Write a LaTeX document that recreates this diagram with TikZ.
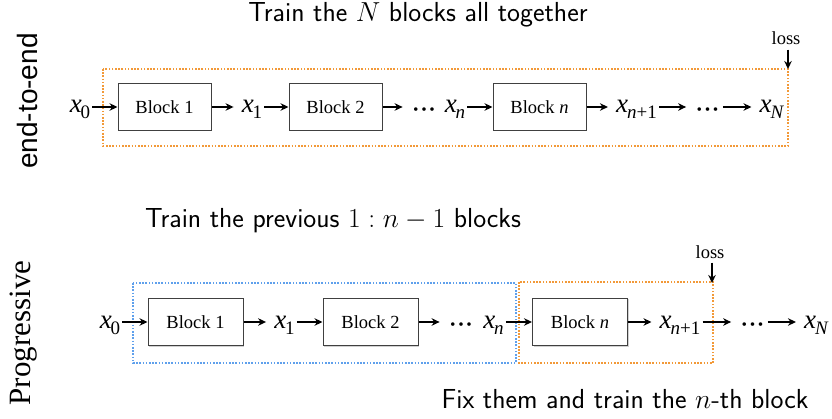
\documentclass[tikz,border=0pt]{standalone}
\usepackage{fix-cm}
\usepackage{fontspec}
\newfontfamily\tms{Liberation Serif}
\newfontfamily\hlv{Liberation Sans}
\usetikzlibrary{arrows.meta,shadows}
\definecolor{orD}{RGB}{242,153,56}
\definecolor{blD}{RGB}{95,160,236}
\newcommand{\xv}[1]{{\fontsize{27}{29}\selectfont\tms\itshape x}\kern-1pt\raisebox{-6pt}{\fontsize{19}{21}\selectfont\tms #1}}
\newcommand{\mydots}{\raisebox{-6.5pt}{\fontsize{30}{32}\selectfont\tms\textperiodcentered\kern-1.8pt\textperiodcentered\kern-1.8pt\textperiodcentered}}
\tikzset{
  blk/.style={draw=black!75, line width=1pt, fill=white, minimum width=#1, minimum height=47pt, inner sep=0pt, font=\fontsize{18.5}{20}\selectfont\tms,
    drop shadow={shadow xshift=1pt, shadow yshift=-1pt, fill=black, opacity=0.18}},
  mth/.style={inner xsep=2pt, inner ysep=0pt, anchor=base},
  arr/.style={-{Stealth[length=8pt,width=7.5pt]}, line width=1.4pt, black},
  arm/.style={arr, shorten >=6pt},
  dotbox/.style={line width=1.7pt, dash pattern=on 1.6pt off 1.6pt},
  ttl/.style={anchor=base, inner sep=0pt, font=\fontsize{27.5}{29}\selectfont\sffamily},
  losst/.style={inner sep=0pt, font=\fontsize{18.5}{20}\selectfont\tms},
}
\begin{document}
\begin{tikzpicture}[x=1pt,y=-1pt]
\useasboundingbox (0,0) rectangle (832,419);
% titles
\node[ttl] (t1) at (418,22) {Train the $N$ blocks all together};
\node[ttl] (t2) at (333,228) {Train the previous $1:n-1$ blocks};
\node[ttl] (t3) at (625,408) {Fix them and train the $n$-th block};
\node[rotate=90, inner sep=0pt, font=\fontsize{28}{30}\selectfont\hlv] (l1) at (27,101) {end-to-end};
\node[rotate=90, inner sep=0pt, font=\fontsize{31}{33}\selectfont\tms] (l2) at (24,333) {Progressive};
% ---------- top row ----------
\coordinate (r1) at (0,107);
\node[mth] (a0) at (80,113) {\xv{0}};
\node[blk=93pt] (ab1) at (164.5,107) {Block 1};
\node[mth] (a1) at (252,113) {\xv{1}};
\node[blk=93pt] (ab2) at (335.5,107) {Block 2};
\node[mth] (ad1) at (424,113) {\mydots};
\node[mth] (an) at (455,113) {\xv{\itshape n}};
\node[blk=93pt] (abn) at (539.5,107) {Block \textit{n}};
\node[mth] (an1) at (636.5,113) {\xv{\textit{n}+1}};
\node[mth] (ad2) at (707.5,113) {\mydots};
\node[mth] (aN) at (771.5,113) {\xv{\itshape N}};
\node[losst] (aloss) at (786,38) {loss};
\coordinate (alt) at (788,69);
\draw[orD, dotbox] (103,69) rectangle (788,146);
\draw[arr] (a0.east |- r1) -- (ab1.west);
\draw[arm] (ab1.east) -- (a1.west |- r1);
\draw[arr] (a1.east |- r1) -- (ab2.west);
\draw[arm] (ab2.east) -- (ad1.west |- r1);
\draw[arr] (an.east |- r1) -- (abn.west);
\draw[arm] (abn.east) -- (an1.west |- r1);
\draw[arm] (an1.east |- r1) -- (ad2.west |- r1);
\draw[arm] (ad2.east |- r1) -- (aN.west |- r1);
\draw[arr] (aloss.south -| alt) ++(0,5) -- (alt);
% ---------- bottom row ----------
\coordinate (r2) at (0,322);
\node[mth] (b0) at (110,328) {\xv{0}};
\node[blk=95pt] (bb1) at (195.5,322) {Block 1};
\node[mth] (b1) at (284.5,328) {\xv{1}};
\node[blk=95pt] (bb2) at (370.5,322) {Block 2};
\node[mth] (bd1) at (461,328) {\mydots};
\node[mth] (bn) at (493.5,328) {\xv{\itshape n}};
\node[blk=95pt] (bbn) at (580,322) {Block \textit{n}};
\node[mth] (bn1) at (680,328) {\xv{\textit{n}+1}};
\node[mth] (bd2) at (752.5,328) {\mydots};
\node[mth] (bN) at (816,328) {\xv{\itshape N}};
\node[losst] (bloss) at (710,252) {loss};
\coordinate (blt) at (712,283);
\draw[blD, dotbox] (133,283) rectangle (516,363);
\draw[orD, dotbox] (519,282) rectangle (713,363);
\draw[arr] (b0.east |- r2) -- (bb1.west);
\draw[arm] (bb1.east) -- (b1.west |- r2);
\draw[arr] (b1.east |- r2) -- (bb2.west);
\draw[arm] (bb2.east) -- (bd1.west |- r2);
\draw[arr] (bn.east |- r2) -- (bbn.west);
\draw[arm] (bbn.east) -- (bn1.west |- r2);
\draw[arm] (bn1.east |- r2) -- (bd2.west |- r2);
\draw[arm] (bd2.east |- r2) -- (bN.west |- r2);
\draw[arr] (bloss.south -| blt) ++(0,4) -- (blt);
\end{tikzpicture}
\end{document}
